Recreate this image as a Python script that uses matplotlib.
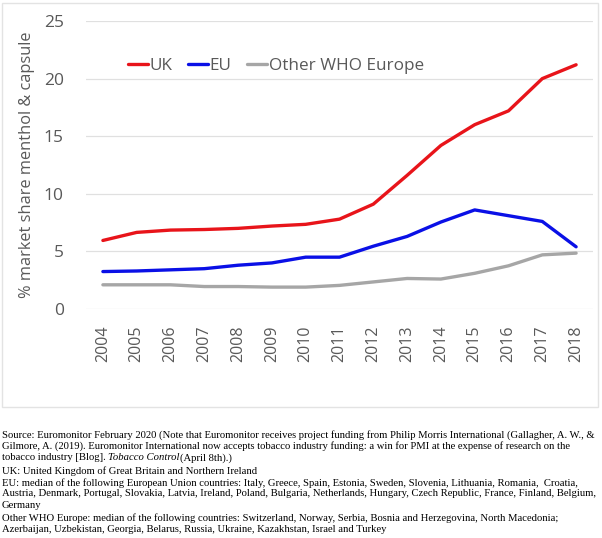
import matplotlib
matplotlib.use("Agg")
import matplotlib.pyplot as plt
from matplotlib.patches import Rectangle

years = ["2004", "2005", "2006", "2007", "2008", "2009", "2010", "2011",
         "2012", "2013", "2014", "2015", "2016", "2017", "2018"]
uk = [5.95, 6.65, 6.85, 6.9, 7.0, 7.2, 7.35, 7.8, 9.1, 11.6, 14.2, 16.0, 17.2, 20.0, 21.2]
eu = [3.25, 3.3, 3.4, 3.5, 3.8, 4.0, 4.5, 4.5, 5.45, 6.3, 7.55, 8.6, 8.1, 7.6, 5.4]
other = [2.1, 2.1, 2.1, 1.95, 1.95, 1.9, 1.9, 2.05, 2.35, 2.65, 2.6, 3.1, 3.75, 4.7, 4.85]
series_names = ["UK", "EU", "Other WHO Europe"]
series_colors = ["#e8141a", "#0a10e6", "#a6a6a6"]
yticks = [0, 5, 10, 15, 20, 25]
ylabel = "% market share menthol & capsule"

notes = [
    "Source: Euromonitor February 2020 (Note that Euromonitor receives project funding from Philip Morris International (Gallagher, A. W., &",
    "Gilmore, A. (2019). Euromonitor International now accepts tobacco industry funding: a win for PMI at the expense of research on the",
    None,
    "UK: United Kingdom of Great Britain and Northern Ireland",
    "EU: median of the following European Union countries: Italy, Greece, Spain, Estonia, Sweden, Slovenia, Lithuania, Romania,  Croatia,",
    "Austria, Denmark, Portugal, Slovakia, Latvia, Ireland, Poland, Bulgaria, Netherlands, Hungary, Czech Republic, France, Finland, Belgium,",
    "Germany",
    "Other WHO Europe: median of the following countries: Switzerland, Norway, Serbia, Bosnia and Herzegovina, North Macedonia;",
    "Azerbaijan, Uzbekistan, Georgia, Belarus, Russia, Ukraine, Kazakhstan, Israel and Turkey",
]
note_y = [435, 446, 458, 471, 483, 494, 506, 518, 530]
NFS = 7.7

W, H = 602, 538
fig = plt.figure(figsize=(W / 100, H / 100), dpi=100)

# chart border box
fig.patches.append(Rectangle((2 / W, 1 - 407 / H), (598 - 2) / W, (407 - 3) / H,
                             transform=fig.transFigure, fill=False,
                             edgecolor="#e3e3e3", linewidth=1.0))

ax_l, ax_r, ax_t, ax_b = 86, 593, 21, 309
ax = fig.add_axes([ax_l / W, 1 - ax_b / H, (ax_r - ax_l) / W, (ax_b - ax_t) / H])

x = list(range(len(years)))
for vals, name, col in zip([uk, eu, other], series_names, series_colors):
    ax.plot(x, vals, color=col, lw=2.4, label=name, solid_capstyle="round")

ax.set_xlim(-0.5, len(years) - 0.5)
ax.set_ylim(0, 25)
ax.set_yticks(yticks)
ax.set_xticks(x)
ax.set_xticklabels(years, rotation=90, fontsize=11.5, color="#595959", family="Open Sans")
ax.set_yticklabels([str(v) for v in yticks], fontsize=12.5, color="#595959", family="Open Sans")
ax.tick_params(length=0)
ax.tick_params(axis="y", pad=16)
ax.tick_params(axis="x", pad=12)
ax.grid(axis="y", color="#e0e0e0", lw=0.9)
ax.set_axisbelow(True)
for s in ax.spines.values():
    s.set_visible(False)
ax.set_ylabel(ylabel, fontsize=11.8, color="#595959", family="Open Sans", labelpad=6)

leg = ax.legend(loc="center left", bbox_to_anchor=((128 - ax_l) / (ax_r - ax_l), (ax_b - 66) / (ax_b - ax_t)),
                ncol=3, frameon=False, borderpad=0, borderaxespad=0,
                handlelength=1.15, handletextpad=0.12, columnspacing=0.9,
                prop={"family": "Open Sans", "size": 12.3})
for t in leg.get_texts():
    t.set_color("#595959")

for yy, line in zip(note_y, notes):
    if line is None:
        fig.text(2 / W, 1 - yy / H, "tobacco industry [Blog]. ", fontsize=NFS,
                 family="Liberation Serif", va="center", ha="left")
        continue
    fig.text(2 / W, 1 - yy / H, line, fontsize=NFS, family="Liberation Serif",
             va="center", ha="left")

# third line with italic part
r = fig.canvas.get_renderer()
t1 = [t for t in fig.texts if t.get_text() == "tobacco industry [Blog]. "][0]
bb = t1.get_window_extent(renderer=r)
t2 = fig.text(bb.x1 / W, 1 - note_y[2] / H, "Tobacco Control", fontsize=NFS,
              family="Liberation Serif", style="italic", va="center", ha="left")
bb2 = t2.get_window_extent(renderer=r)
fig.text(bb2.x1 / W, 1 - note_y[2] / H, "(April 8th).)", fontsize=NFS,
         family="Liberation Serif", va="center", ha="left")

fig.savefig("out.png", dpi=100)
